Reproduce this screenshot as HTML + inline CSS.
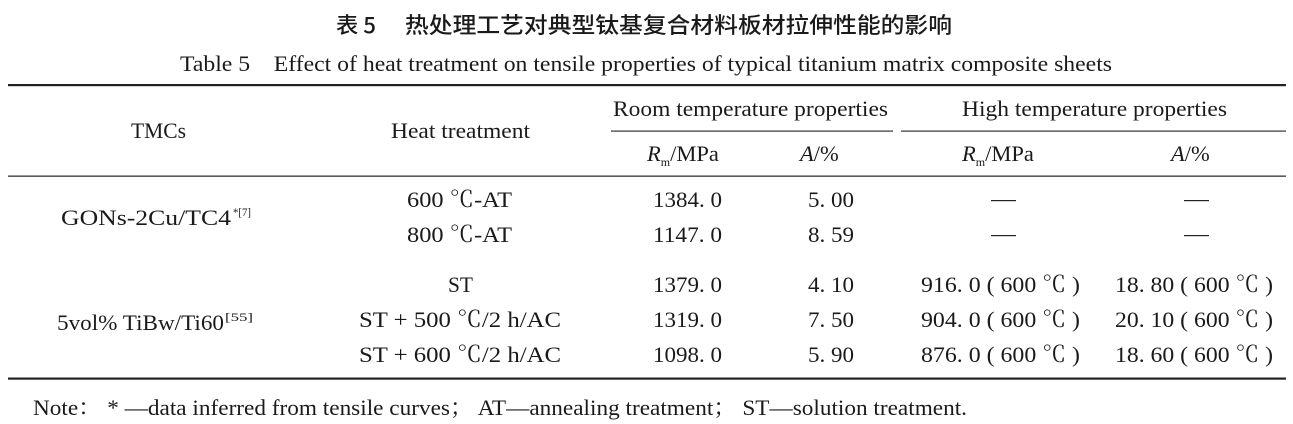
<!DOCTYPE html>
<html><head><meta charset="utf-8"><style>
html,body{margin:0;padding:0;background:#fff;}
svg{display:block}
text{font-family:"Liberation Serif","Noto Serif CJK SC",serif;font-size:22.5px;fill:#1a1a1a;}
.c{font-family:"Noto Sans CJK SC","WenQuanYi Zen Hei",sans-serif;font-weight:500;font-size:22px;}
.i{font-style:italic}
.s{font-size:12px}
</style></head><body>
<svg width="1293" height="424" viewBox="0 0 1293 424" xmlns="http://www.w3.org/2000/svg">
<text class="c" x="336" y="33" textLength="40" lengthAdjust="spacingAndGlyphs">表 5</text>
<text class="c" x="405" y="33" textLength="547" lengthAdjust="spacingAndGlyphs">热处理工艺对典型钛基复合材料板材拉伸性能的影响</text>
<text x="180" y="71" textLength="932" lengthAdjust="spacingAndGlyphs">Table 5　Effect of heat treatment on tensile properties of typical titanium matrix composite sheets</text>

<rect x="8" y="84" width="1278" height="2.2" fill="#222"/>
<rect x="611" y="130.5" width="282" height="1.2" fill="#333"/>
<rect x="901" y="130.5" width="385" height="1.2" fill="#333"/>
<rect x="8" y="175.5" width="1278" height="1.3" fill="#333"/>
<rect x="8" y="377.5" width="1278" height="2.2" fill="#222"/>

<text x="613" y="116" textLength="275" lengthAdjust="spacingAndGlyphs">Room temperature properties</text>
<text x="962" y="116" textLength="265" lengthAdjust="spacingAndGlyphs">High temperature properties</text>
<text x="131" y="138" textLength="55" lengthAdjust="spacingAndGlyphs">TMCs</text>
<text x="391" y="138" textLength="139" lengthAdjust="spacingAndGlyphs">Heat treatment</text>

<text x="647" y="161"><tspan class="i">R</tspan><tspan class="s" dy="5">m</tspan><tspan dy="-5">/MPa</tspan></text>
<text x="800" y="161" class="i">A<tspan font-style="normal">/%</tspan></text>
<text x="962" y="161"><tspan class="i">R</tspan><tspan class="s" dy="5">m</tspan><tspan dy="-5">/MPa</tspan></text>
<text x="1171" y="161" class="i">A<tspan font-style="normal">/%</tspan></text>

<text x="61" y="225" textLength="170" lengthAdjust="spacingAndGlyphs">GONs-2Cu/TC4</text>
<text x="233" y="216" class="s" textLength="18" lengthAdjust="spacingAndGlyphs">*[7]</text>
<text x="57" y="330" textLength="167" lengthAdjust="spacingAndGlyphs">5vol% TiBw/Ti60</text>
<text x="225" y="321" class="s" textLength="28" lengthAdjust="spacingAndGlyphs">[55]</text>

<g>
<text x="407" y="207" textLength="105" lengthAdjust="spacingAndGlyphs">600 ℃-AT</text>
<text x="407" y="242" textLength="105" lengthAdjust="spacingAndGlyphs">800 ℃-AT</text>
<text x="448" y="292" textLength="25" lengthAdjust="spacingAndGlyphs">ST</text>
<text x="359" y="327" textLength="202" lengthAdjust="spacingAndGlyphs">ST + 500 ℃/2 h/AC</text>
<text x="359" y="362" textLength="202" lengthAdjust="spacingAndGlyphs">ST + 600 ℃/2 h/AC</text>
</g>
<g>
<text x="653" y="207" textLength="69" lengthAdjust="spacingAndGlyphs">1384. 0</text>
<text x="653" y="242" textLength="69" lengthAdjust="spacingAndGlyphs">1147. 0</text>
<text x="653" y="292" textLength="69" lengthAdjust="spacingAndGlyphs">1379. 0</text>
<text x="653" y="327" textLength="69" lengthAdjust="spacingAndGlyphs">1319. 0</text>
<text x="653" y="362" textLength="69" lengthAdjust="spacingAndGlyphs">1098. 0</text>
<text x="808" y="207" textLength="46" lengthAdjust="spacingAndGlyphs">5. 00</text>
<text x="808" y="242" textLength="46" lengthAdjust="spacingAndGlyphs">8. 59</text>
<text x="808" y="292" textLength="46" lengthAdjust="spacingAndGlyphs">4. 10</text>
<text x="808" y="327" textLength="46" lengthAdjust="spacingAndGlyphs">7. 50</text>
<text x="808" y="362" textLength="46" lengthAdjust="spacingAndGlyphs">5. 90</text>
</g>
<rect x="991" y="200" width="25" height="1.2" fill="#222"/>
<rect x="1184" y="200" width="25" height="1.2" fill="#222"/>
<rect x="991" y="235" width="25" height="1.2" fill="#222"/>
<rect x="1184" y="235" width="25" height="1.2" fill="#222"/>
<g>
<text x="921" y="292" textLength="159" lengthAdjust="spacingAndGlyphs">916. 0 ( 600 ℃ )</text>
<text x="921" y="327" textLength="159" lengthAdjust="spacingAndGlyphs">904. 0 ( 600 ℃ )</text>
<text x="921" y="362" textLength="159" lengthAdjust="spacingAndGlyphs">876. 0 ( 600 ℃ )</text>
<text x="1115" y="292" textLength="158" lengthAdjust="spacingAndGlyphs">18. 80 ( 600 ℃ )</text>
<text x="1115" y="327" textLength="158" lengthAdjust="spacingAndGlyphs">20. 10 ( 600 ℃ )</text>
<text x="1115" y="362" textLength="158" lengthAdjust="spacingAndGlyphs">18. 60 ( 600 ℃ )</text>
</g>
<text x="33" y="415" textLength="934" lengthAdjust="spacingAndGlyphs">Note： * —data inferred from tensile curves； AT—annealing treatment； ST—solution treatment.</text>
</svg>
</body></html>
